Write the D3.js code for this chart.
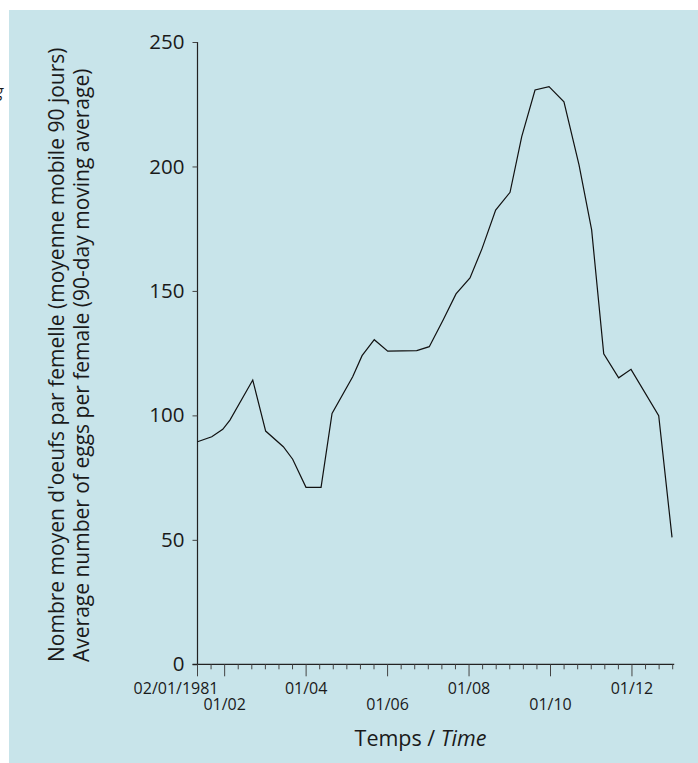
<!DOCTYPE html>
<html>
<head>
<meta charset="utf-8">
<script src="https://cdn.jsdelivr.net/npm/d3@7"></script>
<style>
  html, body { margin: 0; padding: 0; background: #ffffff; }
  svg { display: block; }
  text { font-family: "Open Sans", "Noto Sans", sans-serif; fill: #1a1a1a; }
</style>
</head>
<body>
<svg id="chart" width="698" height="763"></svg>
<script>
// Sampling position along the year, in ten-day steps (0 = 02/01/1981)
const steps = [0, 1.05, 1.86, 2.39, 4.07, 5.02, 6.32, 7.01, 7.99, 9.10, 9.91, 11.43, 12.12, 13.02,
  14.01, 16.15, 17.07, 18.1, 19.04, 20.07, 20.95, 21.96, 23.02, 23.88, 24.86, 25.89, 26.99,
  28.1, 29.03, 29.92, 31.02, 31.93, 33.97, 34.95];
// Mean number of eggs per female, 90-day moving average
const eggs = [89.4, 91.4, 94.4, 98.1, 114.2, 93.7, 87.4, 82.4, 71.1, 71.1, 100.8, 115.5, 124.0, 130.4,
  125.8, 126.0, 127.6, 138.4, 148.8, 155.2, 166.9, 182.5, 189.6, 212.0, 230.7, 232.1, 226.0,
  200.6, 174.5, 124.7, 115.1, 118.5, 99.9, 51.0];

// Axis ticks
const xTickCount = 35;
const xLabelSteps = [0, 2, 8, 14, 20, 26, 32];
const xLabels = ["02/01/1981", "01/02", "01/04", "01/06", "01/08", "01/10", "01/12"];
const yTicks = [0, 50, 100, 150, 200, 250];

const yTitleFr = "Nombre moyen d'oeufs par femelle (moyenne mobile 90 jours)";
const yTitleEn = "Average number of eggs per female (90-day moving average)";

const svg = d3.select("#chart");

// Panel background
svg.append("rect")
  .attr("x", 9).attr("y", 10)
  .attr("width", 689).attr("height", 753)
  .attr("fill", "#c8e4ea");

// Fragment of a caption running in from the left margin
svg.append("text")
  .attr("x", -5).attr("y", 97)
  .attr("font-size", 16)
  .attr("font-style", "italic")
  .text("g");

const x = d3.scaleLinear().domain([0, xTickCount]).range([197.5, 672.7]);
const y = d3.scaleLinear().domain([0, 250]).range([664.3, 42]);

// Y axis
const yAxis = svg.append("g")
  .attr("transform", `translate(${x(0)},0)`)
  .call(d3.axisLeft(y).tickValues(yTicks).tickSize(5).tickPadding(8).tickFormat(d3.format("d")));
yAxis.select(".domain").attr("stroke", "#222").attr("stroke-width", 1.2).attr("d", `M0,${y(250)}V${y(0)}`);
yAxis.selectAll(".tick line").attr("stroke", "#444");
yAxis.selectAll(".tick text")
  .attr("font-size", 20.5)
  .attr("font-family", "'Open Sans', sans-serif")
  .attr("fill", "#1a1a1a");

// X axis: minor ticks every step, longer ticks at labelled dates
const xAxisG = svg.append("g").attr("transform", `translate(0,${y(0)})`);
xAxisG.append("line")
  .attr("x1", x(0) - 5).attr("x2", x(xTickCount) + 1.5)
  .attr("y1", 0).attr("y2", 0)
  .attr("stroke", "#222").attr("stroke-width", 1.2);
xAxisG.selectAll("line.tick")
  .data(d3.range(0, xTickCount + 1))
  .join("line")
  .attr("class", "tick")
  .attr("x1", d => x(d)).attr("x2", d => x(d))
  .attr("y1", 0)
  .attr("y2", d => xLabelSteps.includes(d) ? 12 : 5)
  .attr("stroke", "#444").attr("stroke-width", 1);
xAxisG.selectAll("text.lbl")
  .data(xLabelSteps)
  .join("text")
  .attr("class", "lbl")
  // the first, long date label is set flush-right near its tick
  .attr("x", (d, i) => i === 0 ? x(d) + 21 : x(d))
  .attr("y", (d, i) => i % 2 === 0 ? 30 : 46)
  .attr("text-anchor", (d, i) => i === 0 ? "end" : "middle")
  .attr("font-size", 16)
  .text((d, i) => xLabels[i]);

// Axis titles
const xTitle = svg.append("text")
  .attr("x", 420.5).attr("y", 746)
  .attr("text-anchor", "middle")
  .attr("font-size", 21.5);
xTitle.append("tspan").text("Temps / ");
xTitle.append("tspan").attr("font-style", "italic").text("Time");

svg.append("text")
  .attr("transform", "translate(64,662) rotate(-90)")
  .attr("font-size", 21)
  .text(yTitleFr);
svg.append("text")
  .attr("transform", "translate(89,662) rotate(-90)")
  .attr("font-size", 21)
  .text(yTitleEn);

// Data line
const line = d3.line()
  .x((d, i) => x(steps[i]))
  .y(d => y(d));
svg.append("path")
  .datum(eggs)
  .attr("d", line)
  .attr("fill", "none")
  .attr("stroke", "#111")
  .attr("stroke-width", 1.2)
  .attr("stroke-linejoin", "miter");
</script>
</body>
</html>
